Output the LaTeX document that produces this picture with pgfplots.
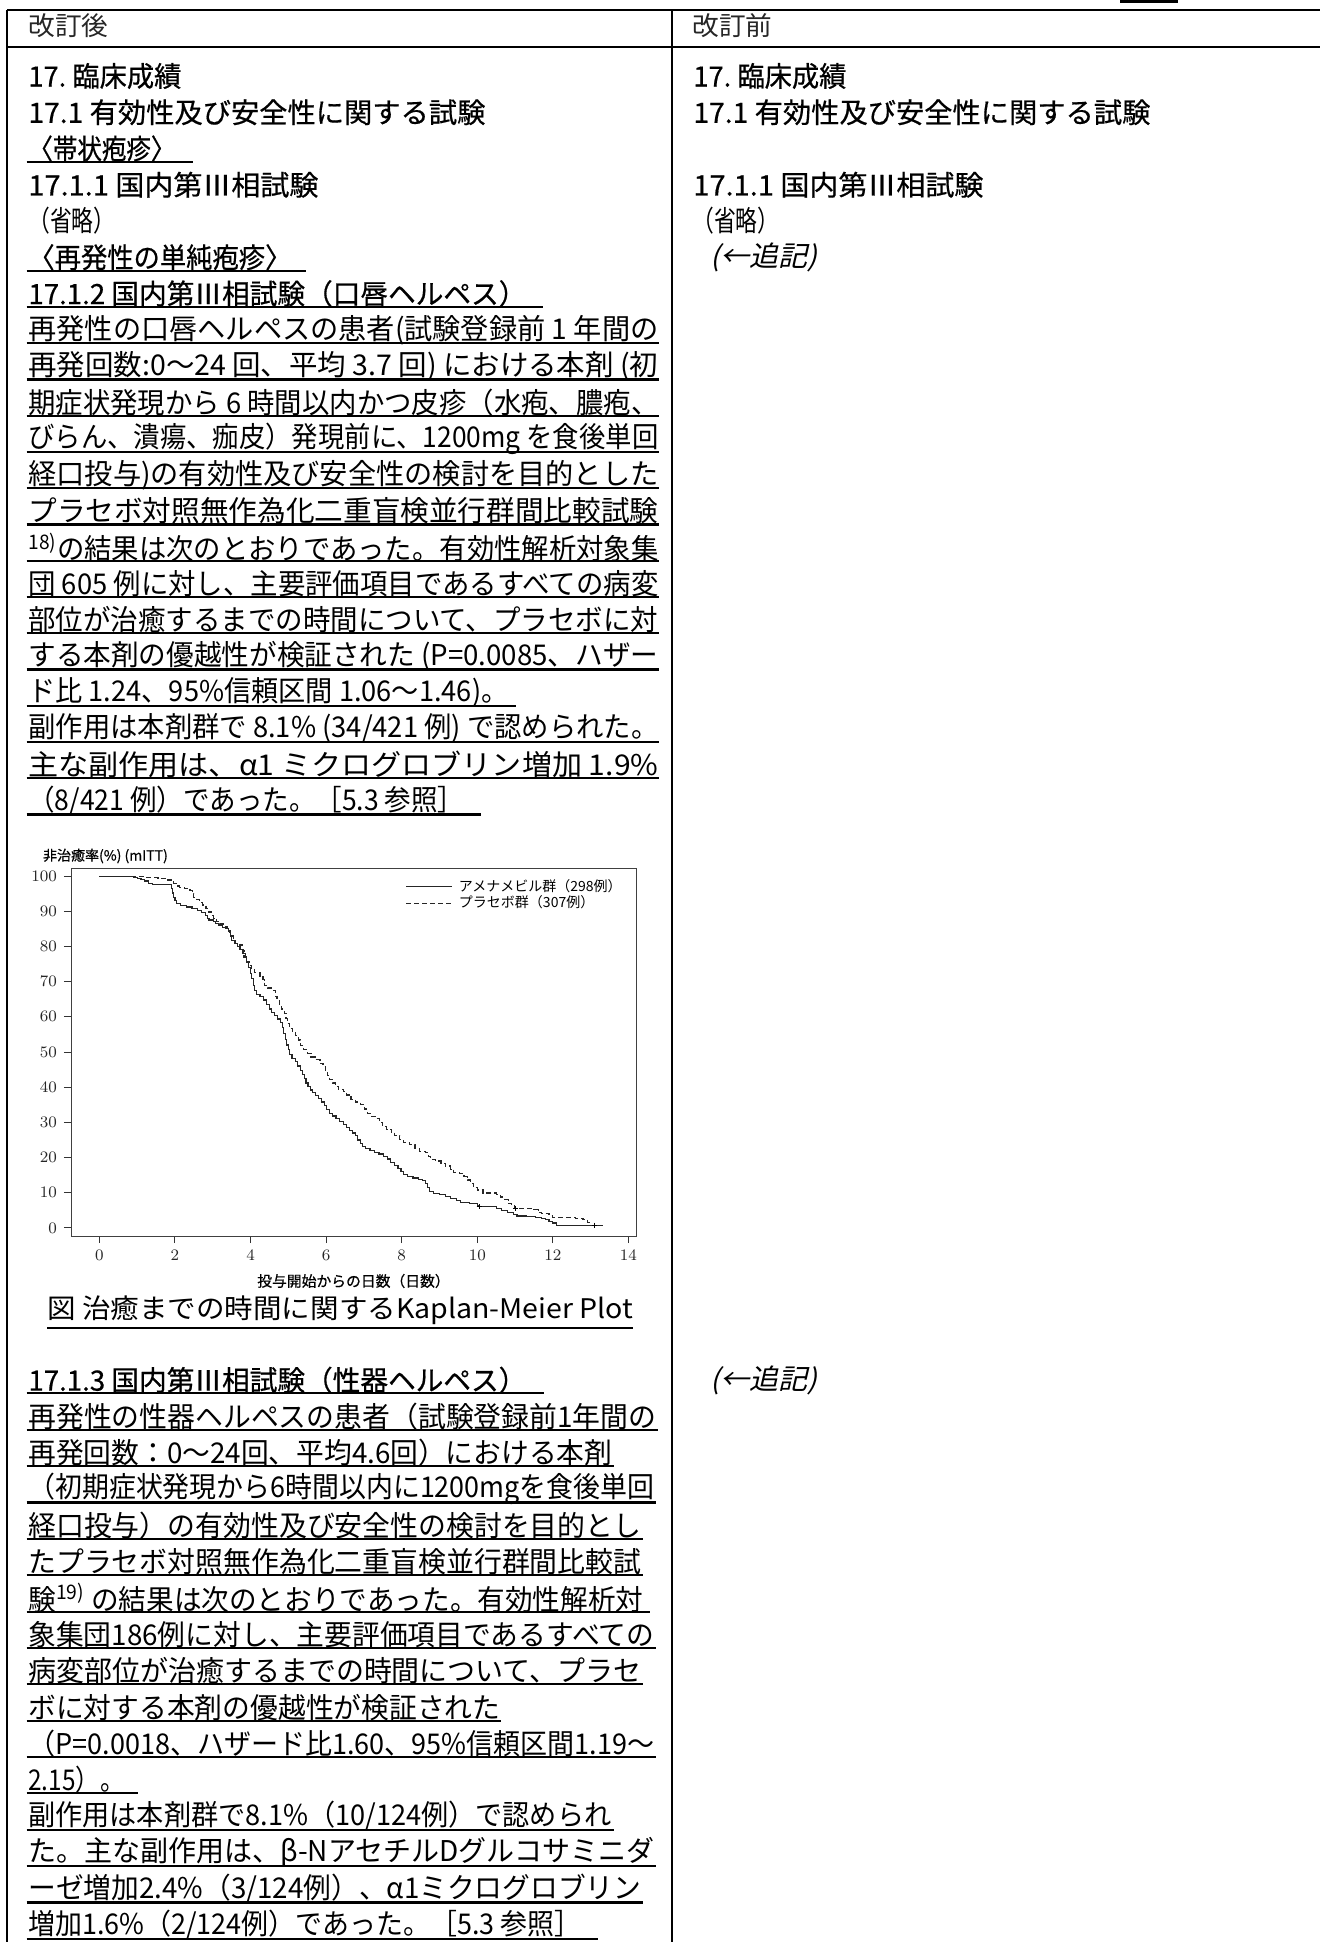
\documentclass[border=0pt]{standalone}
\usepackage{pgfplots}
\pgfplotsset{compat=1.18}
\usepackage{graphicx}
\usepackage{fontspec}
\setmainfont{Noto Sans CJK JP}
\newfontfamily\cjkit[FakeSlant=0.22]{Noto Sans CJK JP}
\newfontfamily\cjkhd[FakeBold=0.6]{Noto Sans CJK JP}

% one drawing unit = one pixel of the page (0.5pt)
\newdimen\pxu \pxu=0.5pt
% \tline{x}{y}{width}{text}: one line of text, stretched to the given width
\newcommand\tline[4]{\node[anchor=west,inner sep=0pt] at (#1,#2) {\resizebox{#3\pxu}{\height}{#4}};}
% \ulin{x1}{x2}{y}: underline marking revised text
\newcommand\ulin[3]{\draw[line width=1.1pt] (#1,#3) -- (#2,#3);}
\newcommand\bd{\fontsize{14.3pt}{16pt}\selectfont}
\newcommand\hd{\cjkhd\fontsize{14pt}{16pt}\selectfont}

\begin{document}
\begin{tikzpicture}
\begin{scope}[x=0.5pt,y=-0.5pt]
\useasboundingbox (0,0) rectangle (1320,1942);
% table frame
\fill (1120,0) rectangle (1178,3);
\draw[line width=1.3pt] (7,10) -- (1320,10);
\draw[line width=1.2pt] (7,47) -- (1320,47);
\draw[line width=1.4pt] (7,10) -- (7,1942);
\draw[line width=1.1pt] (672,10) -- (672,1942);

% column headers
\tline{28}{26}{80}{\color{black!85}\fontsize{13pt}{15pt}\selectfont 改訂後}
\tline{692}{26}{80}{\color{black!85}\fontsize{13pt}{15pt}\selectfont 改訂前}

% ---- revised text (left column) ----
\tline{28}{76}{153}{\hd 17.\ 臨床成績}
\tline{28}{112.25}{457}{\hd 17.1 有効性及び安全性に関する試験}
\tline{28}{148.5}{147}{\hd 〈帯状疱疹〉}
\ulin{26.5}{193}{162}
\tline{28}{184.75}{290}{\hd 17.1.1 国内第Ⅲ相試験}
\tline{28}{221}{87}{\bd （省略）}
\tline{28}{257.25}{263}{\hd 〈再発性の単純疱疹〉}
\ulin{26.5}{305.6}{270.75}
\tline{28}{293.5}{498}{\hd 17.1.2 国内第Ⅲ相試験（口唇ヘルペス）}
\ulin{26.5}{542.7}{307}

\tline{28}{329.75}{630}{\bd 再発性の口唇ヘルペスの患者(試験登録前 1 年間の}
\ulin{26.5}{659}{343.25}
\tline{28}{366}{630}{\bd 再発回数:0～24 回、平均 3.7 回) における本剤 (初}
\ulin{26.5}{659}{379.5}
\tline{28}{402.25}{630}{\bd 期症状発現から 6 時間以内かつ皮疹（水疱、膿疱、}
\ulin{26.5}{659}{415.75}
\tline{28}{438.5}{630}{\bd びらん、潰瘍、痂皮）発現前に、1200mg を食後単回}
\ulin{26.5}{659}{452}
\tline{28}{474.75}{630}{\bd 経口投与)の有効性及び安全性の検討を目的とした}
\ulin{26.5}{659}{488.25}
\tline{28}{511}{630}{\bd プラセボ対照無作為化二重盲検並行群間比較試験}
\ulin{26.5}{659}{524.5}
\tline{28}{547.25}{630}{\bd \textsuperscript{18)}の結果は次のとおりであった。有効性解析対象集}
\ulin{26.5}{659}{560.75}
\tline{28}{583.5}{630}{\bd 団 605 例に対し、主要評価項目であるすべての病変}
\ulin{26.5}{659}{597}
\tline{28}{619.75}{630}{\bd 部位が治癒するまでの時間について、プラセボに対}
\ulin{26.5}{659}{633.25}
\tline{28}{656}{630}{\bd する本剤の優越性が検証された (P=0.0085、ハザー}
\ulin{26.5}{659}{669.5}
\tline{28}{692.25}{480}{\bd ド比 1.24、95\%信頼区間 1.06～1.46)。}
\ulin{26.5}{516}{705.75}
\tline{28}{728.5}{630}{\bd 副作用は本剤群で 8.1\% (34/421 例) で認められた。}
\ulin{26.5}{659}{742}
\tline{28}{764.75}{630}{\bd 主な副作用は、α1 ミクログロブリン増加 1.9\%}
\ulin{26.5}{659}{778.25}
\tline{28}{801}{436}{\bd （8/421 例）であった。［5.3 参照］}
\ulin{26.5}{481}{814.5}

% figure caption
\tline{47}{1310}{586}{\fontsize{13.5pt}{15pt}\selectfont 図 治癒までの時間に関するKaplan-Meier Plot}
\ulin{47}{633}{1328}

\tline{28}{1380}{498}{\hd 17.1.3 国内第Ⅲ相試験（性器ヘルペス）}
\ulin{26.5}{543.6}{1393}
\tline{28}{1416.35}{628}{\bd 再発性の性器ヘルペスの患者（試験登録前1年間の}
\ulin{26.5}{658}{1429.85}
\tline{28}{1452.7}{584}{\bd 再発回数：0～24回、平均4.6回）における本剤}
\ulin{26.5}{614}{1466.2}
\tline{28}{1489.05}{626}{\bd （初期症状発現から6時間以内に1200mgを食後単回}
\ulin{26.5}{656}{1502.55}
\tline{28}{1525.4}{613}{\bd 経口投与）の有効性及び安全性の検討を目的とし}
\ulin{26.5}{643}{1538.9}
\tline{28}{1561.75}{613}{\bd たプラセボ対照無作為化二重盲検並行群間比較試}
\ulin{26.5}{643}{1575.25}
\tline{28}{1598.1}{615}{\bd 験\textsuperscript{19)} の結果は次のとおりであった。有効性解析対}
\ulin{26.5}{650}{1611.6}
\tline{28}{1634.45}{626}{\bd 象集団186例に対し、主要評価項目であるすべての}
\ulin{26.5}{656}{1647.95}
\tline{28}{1670.8}{613}{\bd 病変部位が治癒するまでの時間について、プラセ}
\ulin{26.5}{643}{1684.3}
\tline{28}{1707.15}{472}{\bd ボに対する本剤の優越性が検証された}
\ulin{26.5}{501}{1720.65}
\tline{28}{1743.5}{626}{\bd （P=0.0018、ハザード比1.60、95\%信頼区間1.19～}
\ulin{26.5}{656}{1757}
\tline{28}{1779.85}{96}{\bd 2.15）。}
\ulin{26.5}{137.6}{1793.35}
\tline{28}{1816.2}{583}{\bd 副作用は本剤群で8.1\%（10/124例）で認められ}
\ulin{26.5}{614}{1829.7}
\tline{28}{1852.55}{626}{\bd た。主な副作用は、β-NアセチルDグルコサミニダ}
\ulin{26.5}{656}{1866.05}
\tline{28}{1888.9}{613}{\bd ーゼ増加2.4\%（3/124例）、α1ミクログロブリン}
\ulin{26.5}{643}{1902.4}
\tline{28}{1925.25}{553}{\bd 増加1.6\%（2/124例）であった。［5.3 参照］}
\ulin{26.5}{598}{1938.75}

% ---- previous text (right column) ----
\tline{693}{76}{153}{\hd 17.\ 臨床成績}
\tline{693}{112.25}{457}{\hd 17.1 有効性及び安全性に関する試験}
\tline{693}{184.75}{290}{\hd 17.1.1 国内第Ⅲ相試験}
\tline{692}{221}{87}{\bd （省略）}
\tline{710}{257.25}{107}{\cjkit\fontsize{14pt}{16pt}\selectfont (←追記)}
\tline{710}{1380}{107}{\cjkit\fontsize{14pt}{16pt}\selectfont (←追記)}
\end{scope}

% Kaplan-Meier plot
\begin{axis}[
  at={(35.5pt,-434pt)}, anchor=north west,
  scale only axis, width=282.5pt, height=184pt,
  xmin=-0.75, xmax=14.2, ymin=-2.3, ymax=102.3,
  xtick={0,2,...,14}, ytick={0,10,...,100},
  tick align=outside, tick pos=left,
  major tick length=3.5pt,
  axis line style={black!75, line width=0.5pt},
  tick style={black!80, line width=0.5pt},
  ticklabel style={font=\fontsize{8pt}{9pt}\selectfont, black!85},
  xlabel={投与開始からの日数（日数）},
  ylabel={非治癒率(\%) (mITT)},
  every axis x label/.style={at={(rel axis cs:0.5,0)}, anchor=center, yshift=-22.5pt, font=\cjkhd\fontsize{7.4pt}{8pt}\selectfont},
  every axis y label/.style={at={(rel axis cs:0,1)}, anchor=west, xshift=-17.5pt, yshift=6pt, font=\cjkhd\fontsize{7pt}{8pt}\selectfont},
  legend style={at={(1,1)}, anchor=north east, xshift=-1pt, yshift=-3pt, draw=none, fill=none,
    font=\fontsize{7pt}{7.5pt}\selectfont, nodes={inner xsep=3pt, inner ysep=0.4pt}},
  legend cell align=left,
  legend image code/.code={\draw[#1] (0pt,0pt) -- (23pt,0pt);},
]
% amenamevir group
\addplot[const plot, black!85, line width=0.6pt] coordinates {
(0,100) (0.9,99.7) (1.0,99.3) (1.1,99.0) (1.2,98.6) (1.3,98.0) (1.4,97.6)
(1.9,96.5) (1.93,95.2) (1.97,94.0) (2.0,93.0) (2.05,92.2) (2.15,91.6) (2.3,91.2)
(2.45,90.8) (2.6,90.2) (2.7,89.6) (2.8,88.8) (2.86,88.0) (2.9,87.5) (3.02,87.2)
(3.08,86.6) (3.15,86.0) (3.25,85.5) (3.35,85.0) (3.42,84.4) (3.46,83.0) (3.5,81.6)
(3.58,80.8) (3.65,80.0) (3.72,79.2) (3.8,78.0) (3.86,76.8) (3.9,75.4) (3.95,74.0)
(3.99,72.4) (4.03,70.8) (4.07,69.0) (4.11,67.4) (4.16,66.3) (4.25,65.7) (4.35,64.8)
(4.42,63.6) (4.5,62.2) (4.56,61.2) (4.64,60.4) (4.72,59.4) (4.8,58.4) (4.84,57.0)
(4.88,55.2) (4.92,53.6) (4.96,52.0) (5.0,50.6) (5.04,49.2) (5.1,48.2) (5.18,47.2)
(5.25,46.0) (5.32,44.8) (5.37,43.6) (5.42,42.4) (5.47,41.2) (5.52,40.2) (5.58,39.2)
(5.65,38.4) (5.72,37.6) (5.8,36.8) (5.88,35.8) (5.95,34.8) (6.02,33.6) (6.08,32.6)
(6.16,31.8) (6.26,31.0) (6.36,30.2) (6.46,29.4) (6.55,28.6) (6.62,27.6) (6.7,27.0)
(6.78,26.2) (6.84,25.0) (6.9,24.0) (6.96,23.2) (7.05,22.6) (7.16,22.0) (7.28,21.5)
(7.4,21.0) (7.52,20.4) (7.62,19.6) (7.7,18.6) (7.8,17.8) (7.9,17.0) (7.98,16.0)
(8.05,15.2) (8.15,14.6) (8.3,14.2) (8.45,13.8) (8.56,13.4) (8.62,12.6) (8.68,11.6)
(8.74,10.4) (8.85,9.8) (9.0,9.4) (9.15,9.0) (9.3,8.4) (9.45,7.8) (9.55,7.2)
(9.8,7.0) (10.0,6.4) (10.05,6.0) (10.5,5.6) (10.65,5.0) (10.8,4.4) (10.95,3.9)
(11.05,3.4) (11.3,3.2) (11.55,3.0) (11.7,2.7) (11.8,2.3) (11.9,1.8) (12.0,1.4)
(12.1,0.8) (13.32,0.7)
};
% placebo group
\addplot[const plot, black!85, line width=0.6pt, dash pattern=on 2.5pt off 1.5pt] coordinates {
(0,100) (0.7,99.9) (1.2,99.7) (1.55,99.3) (1.8,98.9) (1.9,98.3) (1.96,97.8)
(2.05,97.2) (2.13,96.8) (2.25,96.4) (2.4,96.0) (2.46,95.0) (2.5,94.0) (2.58,93.4)
(2.66,92.6) (2.74,91.8) (2.82,90.8) (2.9,89.8) (2.97,88.8) (3.03,88.0) (3.1,87.2)
(3.18,86.4) (3.28,85.6) (3.38,85.0) (3.44,84.0) (3.48,83.0) (3.54,82.0) (3.6,80.9)
(3.72,80.4) (3.78,78.8) (3.83,77.0) (3.9,75.8) (3.96,74.6) (4.03,73.4) (4.1,72.6)
(4.25,71.6) (4.33,70.6) (4.38,69.0) (4.45,68.2) (4.6,67.4) (4.66,65.8) (4.7,64.6)
(4.76,63.0) (4.82,62.2) (4.9,61.0) (4.94,59.6) (4.98,58.0) (5.04,56.6) (5.12,55.6)
(5.2,54.6) (5.26,53.4) (5.32,51.8) (5.4,50.6) (5.5,49.6) (5.6,48.6) (5.72,47.8)
(5.84,46.8) (5.92,45.8) (5.98,44.8) (6.04,43.4) (6.1,42.2) (6.17,41.2) (6.24,40.2)
(6.32,39.4) (6.45,38.8) (6.55,37.8) (6.66,36.6) (6.78,35.8) (6.92,35.0) (7.02,33.8)
(7.1,32.6) (7.2,31.6) (7.32,31.0) (7.42,30.0) (7.5,28.8) (7.6,28.0) (7.72,27.2)
(7.82,26.2) (7.95,25.2) (8.04,24.2) (8.2,23.6) (8.35,22.6) (8.48,21.8) (8.64,21.4)
(8.7,20.4) (8.76,19.4) (8.9,19.0) (9.04,18.4) (9.15,17.6) (9.3,16.6) (9.38,15.8)
(9.52,15.4) (9.65,14.6) (9.74,13.6) (9.82,12.6) (9.9,11.4) (10.0,10.8) (10.15,9.9)
(10.5,9.5) (10.62,8.8) (10.72,8.0) (10.82,7.0) (10.9,6.4) (10.98,5.6) (11.5,5.2)
(11.62,4.4) (11.7,4.0) (11.9,3.4) (12.0,3.0) (12.6,2.7) (12.8,2.4) (12.92,1.6)
(13.0,0.8) (13.32,0.6)
};
% censored observations
\addplot[only marks, mark=+, mark size=1.3pt, black, forget plot] coordinates {(10.05,6.0)};
\addplot[only marks, mark=+, mark size=1.3pt, black, forget plot] coordinates {(11.02,5.6) (13.1,0.8)};
\legend{アメナメビル群（298例）, プラセボ群（307例）}
\end{axis}
\end{tikzpicture}
\end{document}
